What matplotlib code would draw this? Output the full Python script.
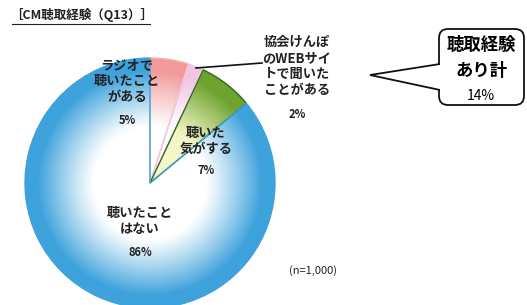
import numpy as np
import matplotlib
matplotlib.use("Agg")
import matplotlib.pyplot as plt
from matplotlib.patches import FancyBboxPatch, Polygon

plt.rcParams['font.family'] = ['Noto Sans CJK JP', 'DejaVu Sans']

title = "［CM聴取経験（Q13）］"
labels = ["ラジオで\n聴いたこと\nがある", "協会けんぽ\nのWEBサイ\nトで聞いた\nことがある",
          "聴いた\n気がする", "聴いたこと\nはない"]
values = [5, 2, 7, 86]
callout_lines = ["聴取経験", "あり計", "14%"]
n_note = "(n=1,000)"

outer_cols = ["#f29a9a", "#f2c4e4", "#6ea32e", "#3ea2dc"]
inner_cols = ["#ffffff", "#ffffff", "#f4f6c8", "#ffffff"]
edge_cols = ["#f2b0b0", "#f0c8e8", "#2d6b1a", "#3ea2dc"]

W, H = 527, 305
fig = plt.figure(figsize=(W / 100, H / 100), dpi=100)
ax = fig.add_axes([0, 0, 1, 1])

cx, cy, R = 150, H - 183, 125
wedges, _ = ax.pie(values, startangle=90, counterclock=False, center=(cx, cy), radius=R,
                   colors=["none"] * len(values), frame=True,
                   wedgeprops=dict(linewidth=1.0))
ax.set_xlim(0, W)
ax.set_ylim(0, H)
ax.set_aspect('auto')
ax.axis('off')

# radial gradients clipped to wedges
gx = np.linspace(cx - R, cx + R, 400)
gy = np.linspace(cy - R, cy + R, 400)
XX, YY = np.meshgrid(gx, gy)
rr = np.clip(np.hypot(XX - cx, YY - cy) / R, 0, 1)
for w, oc, ic, ec in zip(wedges, outer_cols, inner_cols, edge_cols):
    o = np.array(matplotlib.colors.to_rgb(oc))
    i = np.array(matplotlib.colors.to_rgb(ic))
    t = np.clip((rr - 0.45) / 0.45, 0, 1) ** 1.1
    img = i[None, None, :] * (1 - t[..., None]) + o[None, None, :] * t[..., None]
    im = ax.imshow(img, extent=(cx - R, cx + R, cy - R, cy + R), origin='lower',
                   zorder=1, interpolation='bilinear')
    im.set_clip_path(w)
    w.set_edgecolor(ec)
    w.set_zorder(2)

lab_kw = dict(fontsize=9.5, fontweight='bold', ha='center', va='center',
              linespacing=1.2, color='#222222', zorder=5)
pct_kw = dict(fontsize=8, fontweight='bold', ha='center', va='center',
              color='#222222', zorder=5)

ax.text(127, H - 81, labels[0], **lab_kw)
ax.text(127, H - 121, f"{values[0]}%", **pct_kw)
ax.text(297, H - 66, labels[1], **lab_kw)
ax.text(297, H - 115, f"{values[1]}%", **pct_kw)
ax.text(206, H - 141, labels[2], **lab_kw)
ax.text(206, H - 170, f"{values[2]}%", **pct_kw)
ax.text(140, H - 221, labels[3], **lab_kw)
ax.text(140, H - 252, f"{values[3]}%", **pct_kw)

# leader line for small slice
ax.plot([196, 262], [H - 68, H - 63], color='#111111', lw=1.2, zorder=6)

ax.text(10, H - 15, title, fontsize=9, fontweight='bold', ha='left', va='center',
        color='#222222')
ax.plot([12, 150], [H - 24, H - 24], color='#222222', lw=0.8)

ax.text(313, H - 271, n_note, fontsize=8, ha='center', va='center', color='#222222')

# callout
box = FancyBboxPatch((439, H - 105), 85, 76, boxstyle="round,pad=0,rounding_size=9",
                     facecolor='white', edgecolor='#111111', lw=1.3, zorder=3)
ax.add_patch(box)
tail = Polygon([[440, H - 64], [370, H - 75], [440, H - 90]], closed=False,
               facecolor='white', edgecolor='#111111', lw=1.3, zorder=4)
ax.add_patch(tail)
ax.plot([440.5, 440.5], [H - 65, H - 89], color='white', lw=2.0, zorder=4.5)
ax.text(481, H - 45, callout_lines[0], fontsize=12.5, fontweight='bold', ha='center',
        va='center', zorder=5)
ax.text(481, H - 71, callout_lines[1], fontsize=12.5, fontweight='bold', ha='center',
        va='center', zorder=5)
ax.text(481, H - 96, callout_lines[2], fontsize=10, ha='center', va='center', zorder=5)

fig.savefig("out.png", dpi=100)
